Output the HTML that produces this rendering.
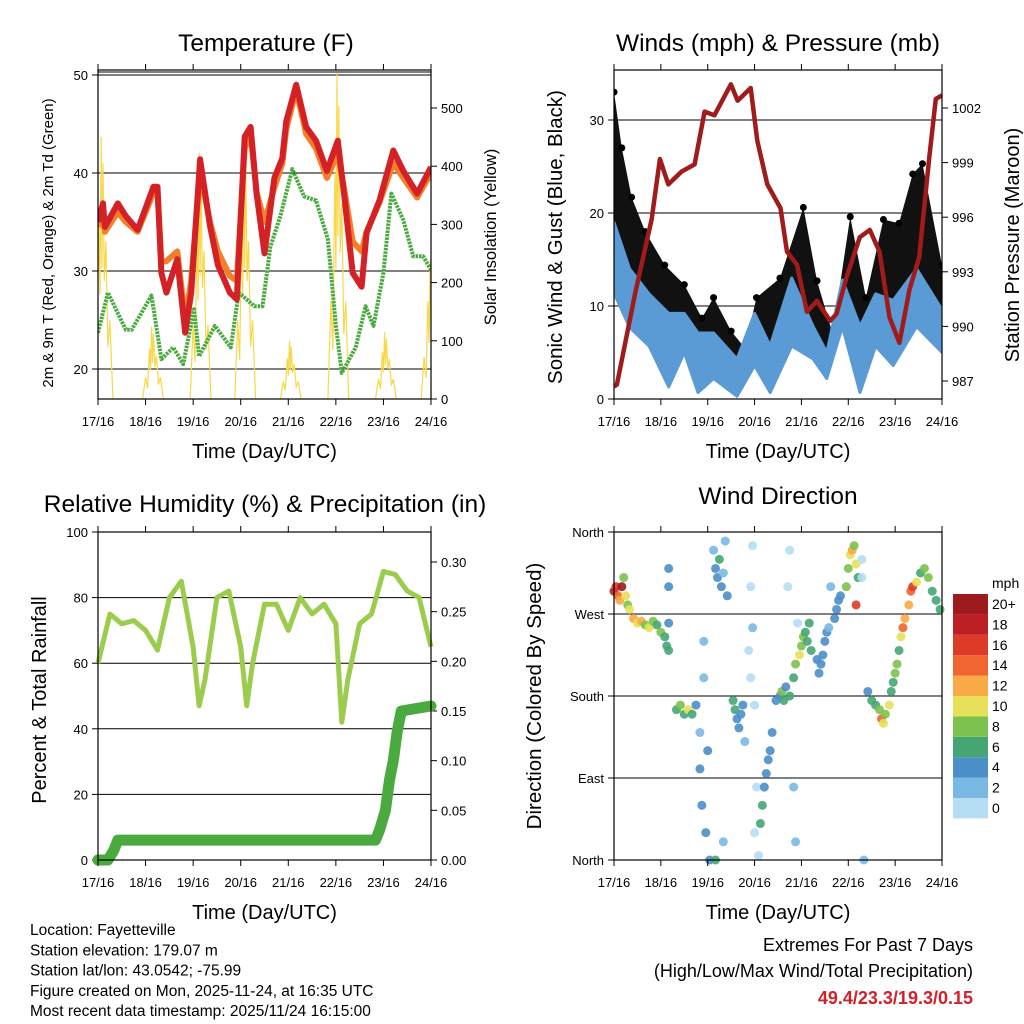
<!DOCTYPE html>
<html><head><meta charset="utf-8">
<style>
body{margin:0;background:#fff;}
svg{display:block;font-family:"Liberation Sans",Arial,sans-serif;}
</style></head>
<body>
<svg id="c" width="1024" height="1024" viewBox="0 0 1024 1024">
<g id="g"></g>
</svg>
<script>
// ---- data ----
const tempHours=[0,2.5,3.5,10,14,20,28,30,32,34.5,40,44,47,51.5,56.5,60.5,66.5,70,74,77,80,84,89,93,95,100,105,110,115.5,121,124.5,128.5,133,135.5,142,149,154,161,168];
const temp2m=[35,36.9,34.5,36.9,35.6,34.2,38.6,38.6,29.8,27.8,31.2,23.7,27.8,41.4,34.6,30.6,27.8,27.1,43.7,44.7,37.9,31.8,39.5,41.5,45.3,49,44.7,43.3,40.2,43.3,37.2,29.8,28.4,33.9,37.2,42.3,40.2,37.9,40.6];
const temp9m=[34.5,36,34,36,35,34,38,38,31,31,32,25,29,40,35,32,29.5,29,42.5,44,38,35,38.5,41,44.5,48.5,44,42.5,39.5,42,38,33,32,34,37,41,39.5,37.5,40];
const dewHours=[0,5,14,17,27,32,38,43,48.5,51,59,67,71,79,83,87,92,98,104,110,116,120,123,130,135,139,144,148,154,159,164,168];
const dewPoint=[23.7,27.8,24,24,27.5,21,22.2,20.5,26.1,21.3,24.4,22.2,27.8,26.4,26.4,32.5,35.6,40.4,37.6,37.2,33.2,24.4,19.6,22.2,26.4,24.4,29.8,37.9,35.2,31.5,31.5,30.1];
const solarPeakHours=[2,27.5,51.5,74,97,121,145,168];
const solarPeaks=[450,124,423,450,100,560,115,240];

const windHours=[0,8,18,28,36,43,51,63,72,80,91,102,109,117,126,134,143,155,168];
const windHigh=[19,14,11.3,9.2,9.2,7.1,7.1,4.3,9.2,5.7,13,7.8,5,12.8,7.8,11.3,10.6,14,9.6];
const windLow=[11.4,7.7,5.7,1.3,5,0.7,2.2,0.3,3.6,0.7,5.7,4.3,2.2,7.8,0.7,5.7,3.6,7.8,5];
const gustHours=[0,4,9,16,26,36,45,51,60,67,73,85,97,104,112,121,129,138,146,153,158,168];
const gust=[33,27,21.7,18,14.4,12.3,8.7,10.9,7.3,5.5,10.9,13,20.6,12.7,7,19.6,10.9,19.3,18.9,24.2,25.3,14.4];
const pressHours=[0,1.5,10.8,19.3,23.5,27.8,34.5,41.3,46.4,51.4,59.9,63.3,70,73.4,78.5,85.3,88.6,93.7,98.8,103.9,110.7,114,119.1,125.9,131,136,141.1,146.2,151.3,156.3,161.4,164.8,168];
const pressure=[986.7,986.8,991.8,995.9,999.2,997.8,998.5,998.9,1001.8,1001.6,1003.3,1002.4,1003.1,1000.2,997.8,996.5,994.1,993.4,990.8,991.4,990.3,990.7,992.7,994.9,995.3,994.1,990.5,989.1,992,993.8,999.2,1002.5,1002.7];

const rhHours=[0,6,12,18,24,30,36,42,48,51,54,60,66,72,75,78,84,90,96,102,108,114,120,123,126,132,138,144,150,156,162,168];
const rhVals=[60,75,72,73,70,64,80,85,65,47,55,80,82,65,47,60,78,78,70,80,75,78,72,42,55,72,75,88,87,82,80,65];
const precipHours=[0,5,8,10,140,142,145,147,149,151,153,168];
const precipVals=[0,0,0.01,0.02,0.02,0.03,0.05,0.08,0.10,0.13,0.15,0.155];

const wdHours=[0,1,2,3,4,5,6,7,8,10,12,14,16,18,20,22,24,26,27,28,28,28,28,32,34,36,38,40,42,44,44,45,46,46,47,48,49,51,52,53,54,55,56,57,58,52,56,61,62,63,64,65,66,67,69,70,70,71,72,73,72,74,71,75,76,77,78,79,80,81,83,85,86,87,88,90,92,93,89,90,92,93,94,95,96,97,98,99,100,101,104,105,106,107,108,109,110,111,113,114,115,116,119,120,121,122,123,124,125,124,127,127,128,130,132,134,136,137,138,139,141,142,143,144,145,146,147,148,149,151,152,153,155,157,159,161,163,165,167];
const wdDirs=[295,300,290,285,300,310,290,280,275,265,260,262,258,255,262,258,250,245,235,230,320,300,260,165,170,160,165,160,170,140,100,60,200,240,30,120,0,340,320,310,330,300,315,350,290,0,20,175,165,155,145,160,170,130,230,200,300,345,170,80,30,5,255,40,60,80,95,110,120,140,175,180,185,175,190,180,200,215,300,340,80,20,260,225,235,245,250,240,260,230,220,205,215,225,240,250,255,300,265,275,285,290,300,320,335,340,345,325,310,280,330,310,0,185,175,170,165,155,150,160,170,185,195,205,215,230,245,255,265,280,295,300,305,315,320,310,295,285,275];
const wdSpeeds=[18,16,14,12,20,8,10,8,10,12,10,12,8,10,8,6,8,6,6,6,4,4,4,6,8,6,10,6,4,2,4,4,2,2,4,4,4,2,4,4,6,4,2,2,4,6,2,6,6,4,4,4,4,2,0,0,0,0,0,0,0,0,2,6,6,5,4,4,4,4,4,4,8,6,4,6,6,8,0,0,2,2,0,10,8,8,6,6,6,6,4,4,4,4,4,4,2,2,4,4,4,4,8,8,10,12,8,10,6,16,0,0,2,4,6,6,8,14,10,8,10,6,6,8,8,6,10,14,12,12,14,16,10,6,8,8,6,6,6];
const speedColors=['#b5def5','#7ab8e4','#4b8ec8','#45a674','#7dc24e','#e8e05a','#f9a945','#f06530','#de3a28','#bd1f25','#9b1b1e'];
const speedLabels=['0','2','4','6','8','10','12','14','16','18','20+'];
const dayLabels=['17/16','18/16','19/16','20/16','21/16','22/16','23/16','24/16'];

// ---- helpers ----
const NS='http://www.w3.org/2000/svg';
const root=document.getElementById('g');
function el(tag,attrs,parent){const e=document.createElementNS(NS,tag);for(const k in attrs)e.setAttribute(k,attrs[k]);(parent||root).appendChild(e);return e;}
function txt(s,x,y,size,anchor,parent,extra){const t=el('text',Object.assign({x:x,y:y,'font-size':size,'text-anchor':anchor||'middle',fill:'#000'},extra||{}),parent);t.textContent=s;return t;}
function lin(d0,d1,r0,r1){return v=>r0+(v-d0)*(r1-r0)/(d1-d0);}
function poly(xs,ys,fx,fy){return xs.map((h,i)=>fx(h).toFixed(1)+','+fy(ys[i]).toFixed(1)).join(' ');}

function panel(name){
  const g=el('g',{});
  
  
  return g;
}
function frame(g,x0,x1,y0,y1){el('rect',{x:x0,y:y0,width:x1-x0,height:y1-y0,fill:'none',stroke:'#000','stroke-width':1.2},g);}
function xAxis(g,x0,x1,y0,y1){
  const fx=lin(0,168,x0,x1);
  const ax=el('g',{},g);
  
  
  dayLabels.forEach((l,i)=>{const x=fx(i*24);
    el('line',{x1:x,x2:x,y1:y1,y2:y1+6,stroke:'#000','stroke-width':1},ax);
    el('line',{x1:x,x2:x,y1:y0,y2:y0-6,stroke:'#000','stroke-width':1},ax);
    txt(l,x,y1+27,13,'middle',ax);});
  const t=txt('Time (Day/UTC)',(x0+x1)/2,y1+59,20,'middle',ax);
  
  return fx;
}
function yTicks(g,ticks,fy,x,side,labels,grid,x0,x1,size){
  const ax=el('g',{},g);
  
  
  ticks.forEach((v,i)=>{const y=fy(v);
    el('line',{x1:x,x2:x+6*side,y1:y,y2:y,stroke:'#000'},ax);
    if(grid)el('line',{x1:x0,x2:x1,y1:y,y2:y,stroke:'#000','stroke-width':1},ax);
    txt(labels[i],x+10*side,y+5,size||13,side<0?'end':'start',ax);});
  return ax;
}
function vTitle(g,s,x,y,size,name){const t=txt(s,x,y,size,'middle',g,{transform:'rotate(-90 '+x+' '+y+')'});}
function title(g,s,x,y){const t=txt(s,x,y,24.5,'middle',g);}

// ---- Panel 1: Temperature ----
(function(){
  const x0=98,x1=431,y0=70,y1=399;
  const g=panel('temperature-panel');
  const fy=lin(20,50,369,75), fs=lin(0,500,399,108);
  const fx=lin(0,168,x0,x1);
  const clip=el('clipPath',{id:'c1'},g);el('rect',{x:x0,y:y0,width:x1-x0,height:y1-y0},clip);
  yTicks(g,[20,30,40,50],fy,x0,-1,['20','30','40','50'],true,x0,x1);
  el('line',{x1:x0,x2:x1,y1:72,y2:72,stroke:'#000'},g);
  yTicks(g,[0,100,200,300,400,500],fs,x1,1,['0','100','200','300','400','500']);
  const d=el('g',{'clip-path':'url(#c1)'},g);
  const sg=el('g',{},d);
  solarPeakHours.forEach((h,i)=>{const p=solarPeaks[i];
    const pts=[[h-5,0],[h-3.5,p*0.3],[h-2.5,p*0.15],[h-1.5,p*0.7],[h-1,p*0.4],[h-0.4,p],[h,p*0.5],[h+0.5,p*0.9],[h+1.2,p*0.45],[h+2,p*0.6],[h+3,p*0.2],[h+4,p*0.3],[h+5.5,0]];
    el('polyline',{points:pts.map(q=>fx(q[0]).toFixed(1)+','+fs(q[1]).toFixed(1)).join(' '),fill:'none',stroke:'#f7d84a','stroke-width':1.2},sg);});
  const dw=el('polyline',{points:poly(dewHours,dewPoint,fx,fy),fill:'none',stroke:'#4aaa3f','stroke-width':4,'stroke-dasharray':'2.5 1','stroke-linejoin':'round'},d);
  
  const o=el('polyline',{points:poly(tempHours,temp9m,fx,fy),fill:'none',stroke:'#f47f2a','stroke-width':6,'stroke-linejoin':'round'},d);
  
  const r=el('polyline',{points:poly(tempHours,temp2m,fx,fy),fill:'none',stroke:'#d42126','stroke-width':6,'stroke-linejoin':'round'},d);
  
  frame(g,x0,x1,y0,y1);xAxis(g,x0,x1,y0,y1);
  title(g,'Temperature (F)',266,51);
  vTitle(g,'2m & 9m T (Red, Orange) & 2m Td (Green)',53,243,15,'left-y-axis-title');
  vTitle(g,'Solar Insolation (Yellow)',496,237,16.5,'right-y-axis-title');
})();

// ---- Panel 2: Winds ----
(function(){
  const x0=614,x1=942,y0=70,y1=399;
  const g=panel('winds-pressure-panel');
  const fy=lin(0,30,399,120), fp=lin(987,1002,381,108);
  const fx=lin(0,168,x0,x1);
  yTicks(g,[0,10,20,30],fy,x0,-1,['0','10','20','30'],true,x0,x1);
  yTicks(g,[987,990,993,996,999,1002],fp,x1,1,['987','990','993','996','999','1002']);
  const clip=el('clipPath',{id:'c2'},g);el('rect',{x:x0,y:y0,width:x1-x0,height:y1-y0},clip);
  const d=el('g',{'clip-path':'url(#c2)'},g);
  const gp=gustHours.map((h,i)=>fx(h).toFixed(1)+','+fy(gust[i]).toFixed(1)).join(' ');
  const bp=windHours.map((h,i)=>fx(h).toFixed(1)+','+fy(windHigh[i]).toFixed(1)).reverse().join(' ');
  const ga=el('polygon',{points:gp+' '+bp,fill:'#111'},d);
  
  gustHours.forEach((h,i)=>{el('circle',{cx:fx(h),cy:fy(gust[i]),r:3.5,fill:'#000'},d);});
  const wt=windHours.map((h,i)=>fx(h).toFixed(1)+','+fy(windHigh[i]).toFixed(1)).join(' ');
  const wb=windHours.map((h,i)=>fx(h).toFixed(1)+','+fy(windLow[i]).toFixed(1)).reverse().join(' ');
  const wa=el('polygon',{points:wt+' '+wb,fill:'#5b9bd5',stroke:'#5b9bd5','stroke-width':3,'stroke-linejoin':'round'},d);
  
  const p=el('polyline',{points:poly(pressHours,pressure,fx,fp),fill:'none',stroke:'#a01c1c','stroke-width':4.5,'stroke-linejoin':'round'},d);
  
  frame(g,x0,x1,y0,y1);xAxis(g,x0,x1,y0,y1);
  title(g,'Winds (mph) & Pressure (mb)',778,51);
  vTitle(g,'Sonic Wind & Gust (Blue, Black)',562,237,20.5,'left-y-axis-title');
  vTitle(g,'Station Pressure (Maroon)',1019,245,20,'right-y-axis-title');
})();

// ---- Panel 3: RH & Precip ----
(function(){
  const x0=98,x1=431,y0=532,y1=860;
  const g=panel('humidity-precip-panel');
  const fy=lin(0,100,860,532), fr=lin(0,0.30,860,562);
  const fx=lin(0,168,x0,x1);
  yTicks(g,[0,20,40,60,80,100],fy,x0,-1,['0','20','40','60','80','100'],true,x0,x1);
  yTicks(g,[0,0.05,0.10,0.15,0.20,0.25,0.30],fr,x1,1,['0.00','0.05','0.10','0.15','0.20','0.25','0.30']);
  const clip=el('clipPath',{id:'c3'},g);el('rect',{x:x0-8,y:y0,width:x1-x0+16,height:y1-y0+8},clip);
  const d=el('g',{'clip-path':'url(#c3)'},g);
  const rh=el('polyline',{points:poly(rhHours,rhVals,fx,fy),fill:'none',stroke:'#9ccc4e','stroke-width':5,'stroke-linejoin':'round'},d);
  
  const pr=el('polyline',{points:poly(precipHours,precipVals,fx,fr),fill:'none',stroke:'#4aaa3f','stroke-width':11,'stroke-linejoin':'round','stroke-linecap':'round'},d);
  
  frame(g,x0,x1,y0,y1);xAxis(g,x0,x1,y0,y1);
  title(g,'Relative Humidity (%) & Precipitation (in)',265,512);
  vTitle(g,'Percent & Total Rainfall',46,700,20,'left-y-axis-title');
})();

// ---- Panel 4: Wind Direction ----
(function(){
  const x0=614,x1=942,y0=532,y1=860;
  const g=panel('wind-direction-panel');
  const fy=lin(0,360,860,532);
  const fx=lin(0,168,x0,x1);
  yTicks(g,[0,90,180,270,360],fy,x0,-1,['North','East','South','West','North'],true,x0,x1);
  const d=el('g',{},g);
  
  wdHours.forEach((h,i)=>{const s=wdSpeeds[i];const k=Math.min(10,Math.floor(s/2));
    const c=el('circle',{cx:fx(h),cy:fy(wdDirs[i]),r:4.5,fill:speedColors[k],opacity:0.9},d);
    
    });
  frame(g,x0,x1,y0,y1);xAxis(g,x0,x1,y0,y1);
  title(g,'Wind Direction',778,504);
  vTitle(g,'Direction (Colored By Speed)',541,696,20.5,'left-y-axis-title');
  const lg=el('g',{},g);
  txt('mph',992,588,14,'start',lg);
  for(let i=0;i<11;i++){const y=594+(10-i)*20.4;
    const r=el('rect',{x:953,y:y,width:35,height:20.4,fill:speedColors[i]},lg);
    
    txt(speedLabels[i],992,y+15,14,'start',lg);}
})();

// ---- footer text ----
(function(){
  const g=el('g',{});
  ['Location: Fayetteville','Station elevation: 179.07 m','Station lat/lon: 43.0542; -75.99','Figure created on Mon, 2025-11-24, at 16:35 UTC','Most recent data timestamp: 2025/11/24 16:15:00'].forEach((s,i)=>txt(s,30,935+i*20.3,15.5,'start',g));
  const e=el('g',{});
  txt('Extremes For Past 7 Days',973,951,18,'end',e);
  txt('(High/Low/Max Wind/Total Precipitation)',973,977,18,'end',e);
  txt('49.4/23.3/19.3/0.15',973,1004,18,'end',e,{fill:'#d0202a','font-weight':'bold'});
})();
</script>
</body></html>
